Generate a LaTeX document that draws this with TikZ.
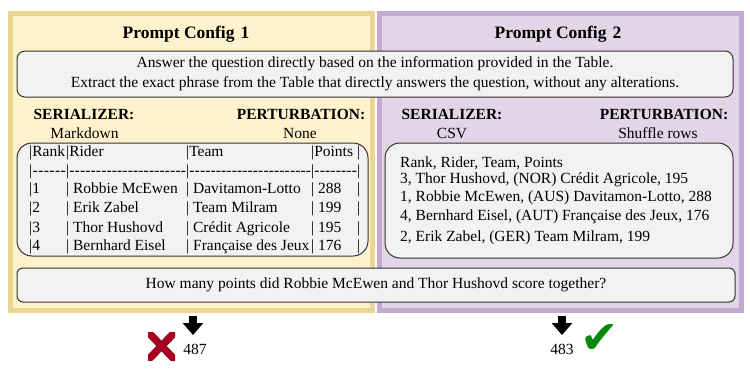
\documentclass[tikz,border=0pt]{standalone}
\usepackage{fontspec}
\setmainfont{Liberation Serif}
\newfontfamily\markfont{DejaVu Sans}
\usetikzlibrary{arrows.meta}
\definecolor{cfgYellowFill}{HTML}{FFF2CC}
\definecolor{cfgYellowLine}{HTML}{EBD595}
\definecolor{cfgPurpleFill}{HTML}{E1D5E7}
\definecolor{cfgPurpleLine}{HTML}{C3AAD3}
\definecolor{boxGray}{HTML}{F2F2F2}
\definecolor{wrongRed}{HTML}{A50021}
\definecolor{rightGreen}{HTML}{0A8A0A}
\newcommand{\mdCell}[2]{\makebox[#1][l]{#2}}
\newcommand{\mdDash}[1]{\hbox to #1{|\xleaders\hbox{-}\hfill}}

\begin{document}
\begin{tikzpicture}[x=1pt,y=-1pt,
  panel/.style={draw, line width=5pt, minimum width=362pt, minimum height=297pt, inner sep=0pt},
  textbox/.style={draw=black!80, fill=boxGray, line width=1pt, inner sep=0pt},
  txt/.style={inner sep=0pt, font=\fontsize{15.5}{20}\selectfont},
  head/.style={inner sep=0pt, font=\fontsize{15.5}{20}\selectfont\bfseries},
  title/.style={inner sep=0pt, font=\fontsize{17.5}{20}\selectfont\bfseries},
  row/.style={txt, anchor=west},
  answerarrow/.style={line width=8pt, -{Triangle[width=20pt,length=12pt]}, shorten <=2.5pt},
  wrongmark/.style={minimum width=27pt, minimum height=28pt, inner sep=0pt, path picture={
    \draw[wrongRed, line width=7.5pt, shorten <=-8pt, shorten >=-8pt] (path picture bounding box.north west) -- (path picture bounding box.south east);
    \draw[wrongRed, line width=7.5pt, shorten <=-8pt, shorten >=-8pt] (path picture bounding box.north east) -- (path picture bounding box.south west);}},
  rightmark/.style={inner sep=0pt, text=rightGreen, font=\markfont\fontsize{46}{46}\selectfont}]
\useasboundingbox (0,0) rectangle (750,375);

\node[panel, fill=cfgYellowFill, draw=cfgYellowLine] (cfgA) at (191.5,162) {};
\node[panel, fill=cfgPurpleFill, draw=cfgPurpleLine] (cfgB) at (560,162) {};
\node[title] (titleA) at (186,34) {Prompt Config\hspace{6pt}1};
\node[title] (titleB) at (558,34) {Prompt Config\hspace{6pt}2};

\node[textbox, rounded corners=8pt, minimum width=716pt, minimum height=46pt, txt, align=center] (instr) at (375,74)
  {Answer the question directly based on the information provided in the Table.\\
   Extract the exact phrase from the Table that directly answers the question, without any alterations.};

\node[head] (serA) at (84,114) {SERIALIZER:};
\node[txt] (serAval) at (84.5,133) {Markdown};
\node[head] (pertA) at (301,114) {PERTURBATION:};
\node[txt] (pertAval) at (300,133) {None};
\node[head] (serB) at (452,114) {SERIALIZER:};
\node[txt] (serBval) at (452,133) {CSV};
\node[head] (pertB) at (664,114) {PERTURBATION:};
\node[txt] (pertBval) at (658,133) {Shuffle rows};

\node[textbox, rounded corners=15pt, minimum width=351pt, minimum height=113pt] (tableA) at (192.5,199.5) {};
\node[row] (mdHead) at (29,153) {\mdCell{37pt}{|Rank}\mdCell{120pt}{|Rider}\mdCell{125pt}{|Team}\mdCell{46pt}{|Points}|};
\node[row] (mdRule) at (29,172) {\mdDash{37pt}\mdDash{120pt}\mdDash{125pt}\mdDash{46pt}|};
\node[row] (mdRowA) at (29,190) {\mdCell{37pt}{|1}\mdCell{120pt}{| Robbie McEwen}\mdCell{125pt}{| Davitamon-Lotto}\mdCell{46pt}{| 288}|};
\node[row] (mdRowB) at (29,209) {\mdCell{37pt}{|2}\mdCell{120pt}{| Erik Zabel}\mdCell{125pt}{| Team Milram}\mdCell{46pt}{| 199}|};
\node[row] (mdRowC) at (29,229) {\mdCell{37pt}{|3}\mdCell{120pt}{| Thor Hushovd}\mdCell{125pt}{| Crédit Agricole}\mdCell{46pt}{| 195}|};
\node[row] (mdRowD) at (29,247) {\mdCell{37pt}{|4}\mdCell{120pt}{| Bernhard Eisel}\mdCell{125pt}{| Française des Jeux}\mdCell{46pt}{| 176}|};

\node[textbox, rounded corners=15pt, minimum width=348pt, minimum height=115pt] (tableB) at (559,200.5) {};
\node[row] (csvHead) at (400,163) {Rank, Rider, Team, Points};
\node[row] (csvRowA) at (400,180) {3, Thor Hushovd, (NOR) Crédit Agricole, 195};
\node[row] (csvRowB) at (400,198) {1, Robbie McEwen, (AUS) Davitamon-Lotto, 288};
\node[row] (csvRowC) at (400,217) {4, Bernhard Eisel, (AUT) Française des Jeux, 176};
\node[row] (csvRowD) at (400,238) {2, Erik Zabel, (GER) Team Milram, 199};

\node[textbox, rounded corners=6pt, minimum width=718pt, minimum height=34pt, txt] (question) at (376,285)
  {How many points did Robbie McEwen and Thor Hushovd score together?};

\coordinate (tipA) at (193,335);
\coordinate (tipB) at (562,335);
\draw[answerarrow] (cfgA.south -| tipA) -- (tipA);
\draw[answerarrow] (cfgB.south -| tipB) -- (tipB);
\node[txt] (ansA) at (195,349) {487};
\node[txt] (ansB) at (562,349) {483};
\node[wrongmark] (markA) at (161.5,346) {};
\node[rightmark] (markB) at (600,339) {✔};
\end{tikzpicture}
\end{document}
